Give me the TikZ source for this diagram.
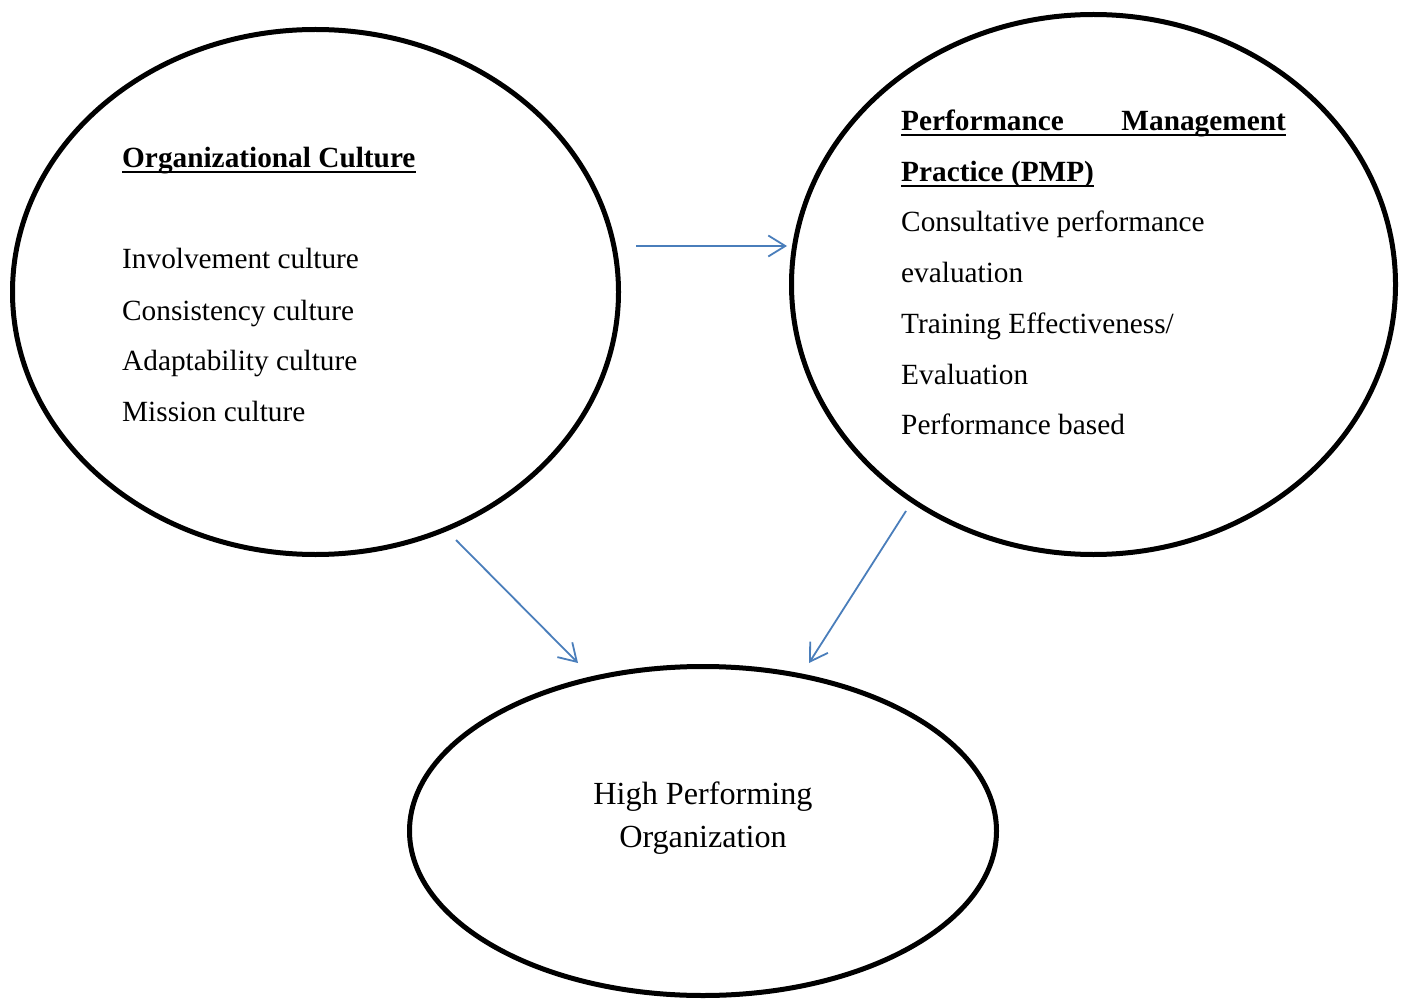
\documentclass[tikz,border=0pt]{standalone}
\usepackage{fontspec}
\setmainfont{Liberation Serif}
\usetikzlibrary{shapes.geometric,arrows.meta}
\definecolor{linkblue}{HTML}{4A7EBB}
\begin{document}
\begin{tikzpicture}[x=1pt,y=-1pt,
  bubble/.style={draw=black,line width=5pt,ellipse,inner sep=0pt},
  txt/.style={inner sep=0pt,anchor=base west,font=\fontsize{29.3}{29.3}\selectfont},
  head/.style={txt,font=\fontsize{29.3}{29.3}\selectfont\bfseries},
  big/.style={inner sep=0pt,anchor=base,font=\fontsize{32.2}{32.2}\selectfont},
  uline/.style={line width=2pt},
  link/.style={draw=linkblue,line width=1.8pt,-{Straight Barb[length=17pt,width=21pt,line width=1.8pt]}}]
\useasboundingbox (0,0) rectangle (1408,1000);

% the three ellipses
\node[bubble,minimum width=606pt,minimum height=525pt] (oc) at (315.5,292) {};
\node[bubble,minimum width=604pt,minimum height=540pt] (pmp) at (1093.5,284.5) {};
\node[bubble,minimum width=587pt,minimum height=329pt] (hpo) at (703,831) {};

% organizational culture
\node[head] (octitle) at (122,168) {Organizational Culture};
\draw[uline] ([yshift=-4pt]octitle.base west) -- ([yshift=-4pt]octitle.base east);
\node[txt] (oc1) at (122,269) {Involvement culture};
\node[txt] (oc2) at (122,320) {Consistency culture};
\node[txt] (oc3) at (122,370) {Adaptability culture};
\node[txt] (oc4) at (122,421) {Mission culture};

% performance management practice
\node[head] (pm1) at (901,131) {Performance};
\node[head,anchor=base east] (pm2) at (1286,131) {Management};
\draw[uline] ([yshift=-4pt]pm1.base west) -- ([yshift=-4pt]pm2.base east);
\node[head] (pm3) at (901,182) {Practice (PMP)};
\draw[uline] ([yshift=-4pt]pm3.base west) -- ([yshift=-4pt]pm3.base east);
\node[txt] (p1) at (901,232) {Consultative performance};
\node[txt] (p2) at (901,283) {evaluation};
\node[txt] (p3) at (901,333) {Training Effectiveness/};
\node[txt] (p4) at (901,384) {Evaluation};
\node[txt] (p5) at (901,434) {Performance based};

% high performing organization
\node[big] (h1) at (703,804) {High Performing};
\node[big] (h2) at (703,847) {Organization};

% connectors
\coordinate (s1) at (636,246);
\coordinate (e1) at (787,246);
\coordinate (s2) at (456,540);
\coordinate (e2) at (578,663);
\coordinate (s3) at (906,511);
\coordinate (e3) at (809,663);
\draw[link] (s1) -- (e1);
\draw[link] (s2) -- (e2);
\draw[link] (s3) -- (e3);
\end{tikzpicture}
\end{document}
